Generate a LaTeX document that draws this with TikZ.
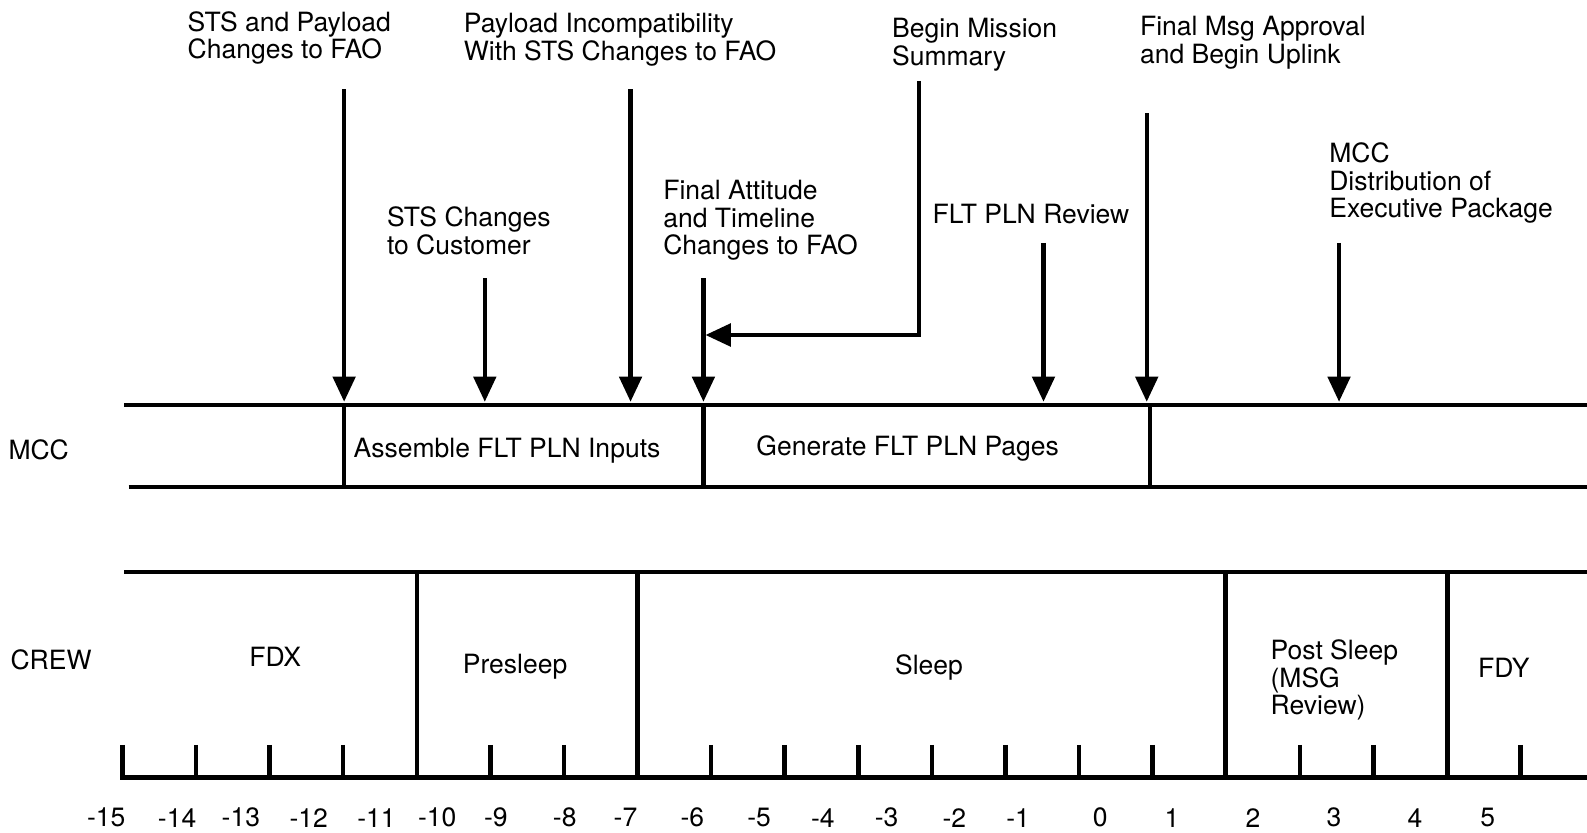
\documentclass[tikz,border=0pt]{standalone}
\usepackage{fontspec}
\setmainfont{TeX Gyre Heros}
\usetikzlibrary{arrows.meta}
\begin{document}
\begin{tikzpicture}[x=0.5pt,y=-0.5pt,
  lbl/.style={anchor=north west,inner sep=0pt,align=left,font=\fontsize{13.1}{13.5}\selectfont},
  num/.style={anchor=center,inner sep=0pt,font=\fontsize{13.1}{13.5}\selectfont},
  bar/.style={line width=2.2pt},
  arr/.style={line width=2.2pt,-{Triangle[width=11pt,length=12.5pt]}}]
\useasboundingbox (0,0) rectangle (1568,823);
% bands
\coordinate (mccTL) at (123,400); \coordinate (mccTR) at (1568,400);
\coordinate (mccBL) at (127,481); \coordinate (mccBR) at (1568,481);
\coordinate (crwTL) at (123,565); \coordinate (crwTR) at (1568,565);
\coordinate (axL) at (119,768);   \coordinate (axR) at (1568,768);
\draw[bar] (mccTL) -- (mccTR);
\draw[bar] (mccBL) -- (mccBR);
\draw[bar] (crwTL) -- (crwTR);
\draw[bar] (axL) -- (axR);
% MCC dividers
\foreach \x in {340,695,1136} \draw[bar] (\x,400) -- (\x,481);
% CREW dividers
\foreach \x in {412,630,1211,1430} \draw[bar] (\x,565) -- (\x,768);
% ticks
\foreach \i in {0,...,19} \draw[bar] ({121+72.7*\i},736) -- ({121+72.7*\i},768);
% tick labels
\foreach \x/\t [count=\k] in {105/-15,175/-14,238/-13,305/-12,372/-11,432/-10,490/-9,558/-8,618/-7,684/-6,750/-5,813/-4,876/-3,943/-2,1006/-1,1087/0,1158/1,1238/2,1318/3,1398/4,1470/5}
  \node[num] (n\k) at (\x,808) {\t};
% top labels
\node[lbl] (t1) at (185,11) {STS and Payload\\Changes to FAO};
\node[lbl] (t2) at (458,13) {Payload Incompatibility\\With STS Changes to FAO};
\node[lbl] (t3) at (881,18) {Begin Mission\\Summary};
\node[lbl] (t4) at (1126,16) {Final Msg Approval\\and Begin Uplink};
\node[lbl] (t5) at (1313,141) {MCC\\Distribution of\\Executive Package};
\node[lbl] (t6) at (382,204) {STS Changes\\to Customer};
\node[lbl] (t7) at (655,178) {Final Attitude\\and Timeline\\Changes to FAO};
\node[lbl] (t8) at (921,201) {FLT PLN Review};
% band labels
\node[lbl] (lmcc) at (8,434) {MCC};
\node[lbl] (lasm) at (349,433) {Assemble FLT PLN Inputs};
\node[lbl] (lgen) at (747,430) {Generate FLT PLN Pages};
\node[lbl] (lcrew) at (10,642) {CREW};
\node[lbl] (lfdx) at (246,639) {FDX};
\node[lbl] (lpre) at (457,646) {Presleep};
\node[lbl] (lslp) at (884,646) {Sleep};
\node[lbl] (lpost) at (1255,632) {Post Sleep\\(MSG\\Review)};
\node[lbl] (lfdy) at (1460,650) {FDY};
% arrows
\coordinate (a1s) at (340,88);   \coordinate (a1e) at (340,397);
\coordinate (a2s) at (623,88);   \coordinate (a2e) at (623,397);
\coordinate (a3s) at (908,80);   \coordinate (a3e) at (697,331);
\coordinate (a4s) at (1133,112); \coordinate (a4e) at (1133,397);
\coordinate (a5s) at (1323,240); \coordinate (a5e) at (1323,397);
\coordinate (a6s) at (479,275);  \coordinate (a6e) at (479,397);
\coordinate (a7s) at (695,275);  \coordinate (a7e) at (695,397);
\coordinate (a8s) at (1031,240); \coordinate (a8e) at (1031,397);
\draw[arr] (a1s) -- (a1e);
\draw[arr] (a2s) -- (a2e);
\draw[arr] (a3s) |- (a3e);
\draw[arr] (a4s) -- (a4e);
\draw[arr] (a5s) -- (a5e);
\draw[arr] (a6s) -- (a6e);
\draw[arr] (a7s) -- (a7e);
\draw[arr] (a8s) -- (a8e);
\end{tikzpicture}
\end{document}
